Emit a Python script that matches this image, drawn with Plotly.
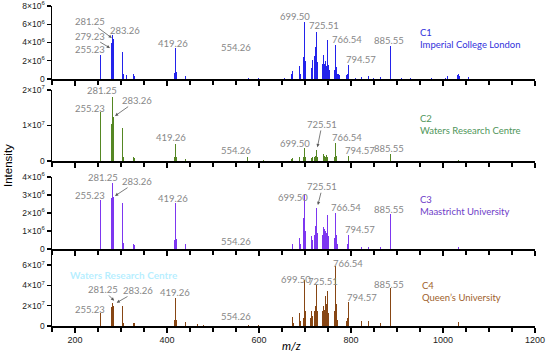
import plotly.graph_objects as go

# ---------------- data ----------------
panel_names = ["C1", "C2", "C3", "C4"]
panel_sites = ["Imperial College London", "Waters Research Centre",
               "Maastricht University", "Queen\u2019s University"]

c1_mz = [255.23, 256.2, 279.23, 280.2, 281.25, 282.2, 283.26, 284.3, 303.23, 304.2, 305.2, 311.2,
         327.2, 329.2, 339.2, 391.28, 417.2, 419.26, 420.3, 441.2, 554.26, 576.3, 598.5, 643.5,
         655.5, 671.5, 673.5, 687.5, 689.5, 697.5, 699.50, 700.5, 713.5, 715.5, 721.5, 723.5,
         725.51, 726.5, 727.5, 737.5, 739.5, 741.5, 745.5, 747.5, 749.5, 750.5, 753.5, 763.5,
         765.5, 766.54, 767.5, 768.5, 771.5, 773.5, 775.5, 790.5, 792.5, 794.57, 795.5, 809.5,
         822.5, 837.5, 848.5, 864.5, 885.55, 886.5, 909.6, 928.6, 975.7, 1005.7, 1009.7, 1031.7,
         1033.7, 1035.7, 1055.7]
c1_int = [2.65, 0.3, 3.9, 0.7, 4.8, 0.9, 4.4, 0.6, 3.0, 0.6, 0.5, 0.4,
          0.5, 0.35, 0.2, 1.35, 0.7, 3.45, 0.75, 0.35, 2.85, 0.15, 0.12, 0.3,
          0.15, 0.6, 0.9, 1.4, 0.6, 2.4, 6.2, 2.0, 1.2, 2.1, 2.5, 3.5,
          5.2, 1.9, 1.3, 1.6, 2.6, 1.6, 2.0, 1.4, 4.3, 1.5, 1.0, 1.0,
          1.4, 3.7, 1.3, 0.9, 0.6, 0.5, 0.4, 0.4, 0.6, 1.5, 0.5, 0.15,
          0.25, 0.3, 0.15, 0.2, 3.6, 0.6, 0.1, 0.15, 0.1, 0.15, 0.3, 0.4,
          0.6, 0.3, 0.2]  # x1e6

c2_mz = [255.23, 256.2, 279.23, 281.25, 282.3, 283.26, 284.3, 303.23, 304.2, 305.2, 327.2, 329.2,
         391.28, 417.2, 419.26, 420.3, 441.2, 554.26, 574.3, 610.5, 643.5, 671.5, 673.5, 687.5,
         697.5, 699.50, 700.5, 713.5, 715.5, 721.5, 723.5, 725.51, 726.5, 739.5, 741.5, 745.5,
         747.5, 749.5, 763.5, 765.5, 766.54, 767.5, 768.5, 794.57, 795.5, 885.55, 886.5, 1033.7]
c2_int = [1.37, 0.2, 1.05, 1.8, 0.3, 1.25, 0.3, 0.93, 0.15, 0.12, 0.12, 0.08,
          0.26, 0.12, 0.48, 0.1, 0.05, 0.15, 0.1, 0.03, 0.04, 0.05, 0.08, 0.1,
          0.1, 0.37, 0.1, 0.08, 0.12, 0.1, 0.15, 0.3, 0.1, 0.2, 0.15, 0.12,
          0.18, 0.12, 0.1, 0.15, 0.51, 0.15, 0.08, 0.15, 0.05, 0.2, 0.04, 0.03]  # x1e7

c3_mz = [255.23, 256.2, 279.23, 281.25, 282.3, 283.26, 284.3, 303.23, 304.2, 305.2, 327.2, 329.2,
         391.28, 417.2, 419.26, 420.3, 441.2, 554.26, 673.5, 687.5, 689.5, 697.5, 699.50, 700.5,
         713.5, 715.5, 721.5, 723.5, 725.51, 726.5, 737.5, 739.5, 741.5, 745.5, 747.5, 749.5,
         750.5, 763.5, 765.5, 766.54, 767.5, 768.5, 771.5, 792.5, 794.57, 795.5, 822.5, 837.5,
         864.5, 885.55, 886.5, 1033.7]
c3_int = [2.7, 0.3, 2.85, 3.65, 0.5, 2.9, 0.4, 2.55, 0.4, 0.35, 0.3, 0.25,
          1.0, 0.5, 2.55, 0.55, 0.3, 0.12, 0.3, 0.6, 0.3, 1.7, 3.05, 1.0,
          0.7, 0.5, 0.8, 1.3, 2.3, 0.9, 0.8, 1.2, 1.1, 1.0, 0.9, 1.9,
          0.7, 0.6, 0.9, 2.0, 0.8, 0.5, 0.3, 0.3, 0.78, 0.3, 0.1, 0.12,
          0.12, 1.95, 0.4, 0.1]  # x1e6

c4_mz = [255.23, 256.2, 279.23, 281.25, 282.3, 283.26, 284.3, 303.23, 304.2, 305.2, 327.2, 329.2,
         391.28, 417.2, 419.26, 420.3, 441.2, 465.3, 480.3, 554.26, 576.3, 598.5, 643.5, 673.5,
         675.5, 687.5, 689.5, 697.5, 699.50, 700.5, 711.5, 713.5, 715.5, 721.5, 723.5, 725.51,
         726.5, 737.5, 739.5, 741.5, 745.5, 747.5, 749.5, 750.5, 763.5, 765.5, 766.54, 767.5,
         768.5, 769.5, 771.5, 790.5, 792.5, 794.57, 795.5, 822.5, 837.5, 864.5, 885.55, 886.5,
         1008.7, 1033.7]
c4_int = [1.3, 0.2, 1.9, 2.25, 0.4, 2.0, 0.35, 2.0, 0.3, 0.3, 0.3, 0.25,
          0.8, 0.55, 2.8, 0.6, 0.4, 0.15, 0.1, 0.45, 0.1, 0.08, 0.1, 0.9,
          0.3, 1.3, 0.5, 0.8, 4.5, 1.5, 0.8, 1.5, 1.0, 1.5, 2.0, 4.0,
          1.5, 1.5, 2.0, 1.6, 3.0, 2.2, 3.5, 1.3, 1.5, 1.8, 5.9, 2.2,
          1.5, 1.0, 0.6, 0.5, 0.8, 2.4, 0.8, 0.5, 0.5, 0.3, 3.7, 0.7,
          0.2, 0.4]  # x1e7

scales = [1e6, 1e7, 1e6, 1e7]
y_tops = [8e6, 2e7, 4e6, 7e7]
y_tickvals = [[0, 2e6, 4e6, 6e6, 8e6], [0, 1e7, 2e7], [0, 1e6, 2e6, 3e6, 4e6], [0, 2e7, 4e7, 6e7]]
y_ticktext = [["0", "2\u00d710<sup>6</sup>", "4\u00d710<sup>6</sup>", "6\u00d710<sup>6</sup>", "8\u00d710<sup>6</sup>"],
              ["0", "1\u00d710<sup>7</sup>", "2\u00d710<sup>7</sup>"],
              ["0", "1\u00d710<sup>6</sup>", "2\u00d710<sup>6</sup>", "3\u00d710<sup>6</sup>", "4\u00d710<sup>6</sup>"],
              ["0", "2\u00d710<sup>7</sup>", "4\u00d710<sup>7</sup>", "6\u00d710<sup>7</sup>"]]
x_tickvals = [200, 400, 600, 800, 1000, 1200]
x_ticktext = ["200", "400", "600", "800", "1000", "1200"]

# peak labels: (text, x, y, arrow head x or None, arrow head y)
labels = [
    [("281.25", 233, 6.25e6, 280, 4.5e6), ("279.23", 233, 4.7e6, 276, 3.4e6), ("255.23", 233, 3.2e6, None, None),
     ("283.26", 309, 5.3e6, None, None), ("419.26", 413, 3.9e6, None, None), ("554.26", 550, 3.4e6, None, None),
     ("699.50", 678, 6.8e6, None, None), ("725.51", 741, 5.9e6, None, None), ("766.54", 791, 4.3e6, None, None),
     ("794.57", 821, 2.1e6, None, None), ("885.55", 883, 4.2e6, None, None)],
    [("255.23", 233, 1.49e7, None, None), ("281.25", 258, 1.98e7, None, None), ("283.26", 334, 1.7e7, 287, 1.27e7),
     ("419.26", 408, 0.66e7, None, None), ("554.26", 551, 0.29e7, None, None), ("699.50", 678, 0.49e7, None, None),
     ("725.51", 737, 1.03e7, 727, 0.39e7), ("766.54", 791, 0.66e7, None, None), ("794.57", 819, 0.30e7, None, None),
     ("885.55", 882, 0.34e7, None, None)],
    [("255.23", 233, 3.0e6, None, None), ("281.25", 261, 4.0e6, None, None), ("283.26", 334, 3.74e6, 287, 2.95e6),
     ("419.26", 413, 2.83e6, None, None), ("554.26", 551, 0.44e6, None, None), ("699.50", 674, 2.85e6, None, None),
     ("725.51", 738, 3.46e6, 728, 2.45e6), ("766.54", 790, 2.33e6, None, None), ("794.57", 819, 1.1e6, None, None),
     ("885.55", 882, 2.2e6, None, None)],
    [("255.23", 233, 1.67e7, None, None), ("281.25", 261, 3.6e7, 285, 2.5e7), ("283.26", 337, 3.5e7, 290.6, 2.3e7),
     ("419.26", 417, 3.3e7, None, None), ("554.26", 551, 0.98e7, None, None), ("699.50", 680, 4.6e7, None, None),
     ("725.51", 739, 4.4e7, None, None), ("766.54", 793, 6.2e7, None, None), ("794.57", 823, 2.84e7, None, None),
     ("885.55", 882, 4.1e7, None, None)],
]
panel_label_pos = [(946, 4.4e6), (946, 1.03e7), (946, 2.39e6), (949, 3.43e7)]

bar_colors = ["rgb(35,35,235)", "rgb(85,135,35)", "rgb(125,55,240)", "rgb(135,70,20)"]
text_colors = ["rgb(50,50,220)", "rgb(80,150,90)", "rgb(110,60,200)", "rgb(160,95,45)"]

all_mz = [c1_mz, c2_mz, c3_mz, c4_mz]
all_int = [c1_int, c2_int, c3_int, c4_int]

# ---------------- layout ----------------
W, H = 550, 359
ML, MR = 52, 15
PW = W - ML - MR
px_domains = [(6, 79), (90, 161), (177, 249), (255, 326)]

fig = go.Figure()
layout = dict(width=W, height=H, margin=dict(l=ML, r=MR, t=0, b=0),
              paper_bgcolor="white", plot_bgcolor="white", showlegend=False,
              bargap=0, barmode="overlay")
annotations = []
gray = "rgb(135,135,135)"
lab_font = dict(family="Lato, Open Sans, sans-serif", size=9.5, color=gray)

for i in range(4):
    n = "" if i == 0 else str(i + 1)
    xa, ya = "x" + n, "y" + n
    vals = [v * scales[i] for v in all_int[i]]
    fig.add_trace(go.Bar(x=all_mz[i], y=vals, width=2.0, xaxis=xa, yaxis=ya,
                         marker=dict(color=bar_colors[i], line=dict(width=0))))
    top, bot = px_domains[i]
    layout["xaxis" + n] = dict(
        domain=[0, 1], range=[150, 1200], anchor=ya, showline=True, linecolor="black", linewidth=1.5,
        ticks="outside", ticklen=5, tickwidth=1.3, tickcolor="black", tickvals=x_tickvals,
        ticktext=x_ticktext, showticklabels=(i == 3),
        tickfont=dict(family="Arial, Liberation Sans", size=9, color="#222"),
        minor=dict(dtick=50, tick0=0, ticks="outside", ticklen=4, tickwidth=1.2, tickcolor="black"),
        showgrid=False, zeroline=False, fixedrange=True, automargin=False)
    layout["yaxis" + n] = dict(
        domain=[1 - bot / H, 1 - top / H], range=[0, y_tops[i]], anchor=xa, showline=True,
        linecolor="black", linewidth=1.5, ticks="outside", ticklen=4, tickwidth=1.3, tickcolor="black",
        tickvals=y_tickvals[i], ticktext=y_ticktext[i],
        tickfont=dict(family="Arial, Liberation Sans", size=8.5, color="#222"),
        showgrid=False, zeroline=False, automargin=False, fixedrange=True)

    for (t, x, y, hx, hy) in labels[i]:
        if hx is None:
            annotations.append(dict(text=t, x=x, y=y, xref=xa, yref=ya, showarrow=False,
                                    xanchor="center", yanchor="middle", font=lab_font))
        else:
            annotations.append(dict(text=t, x=hx, y=hy, ax=x, ay=y, xref=xa, yref=ya,
                                    axref=xa, ayref=ya, showarrow=True, arrowhead=2, arrowsize=0.8,
                                    arrowwidth=0.8, arrowcolor="rgb(90,90,90)", font=lab_font,
                                    borderpad=0))
    px_, py_ = panel_label_pos[i]
    annotations.append(dict(text=panel_names[i] + "<br>" + panel_sites[i], x=px_, y=py_,
                            xref=xa, yref=ya, showarrow=False, xanchor="left", yanchor="middle",
                            align="left",
                            font=dict(family="Lato, Open Sans, sans-serif", size=9.5,
                                      color=text_colors[i])))

# faint overlay text visible in the source image
annotations.append(dict(text="<b>Waters Research Centre</b>", x=306, y=5.0e7, xref="x4", yref="y4",
                        showarrow=False, xanchor="center", yanchor="middle",
                        font=dict(family="Lato, Open Sans, sans-serif", size=10,
                                  color="rgba(120,225,255,0.55)")))
# axis titles (paper coords are relative to the plot area)
annotations.append(dict(text="Intensity", x=(8 - ML) / PW, y=1 - 166 / H, xref="paper", yref="paper",
                        showarrow=False, textangle=-90, xanchor="center", yanchor="middle",
                        font=dict(family="Arial, Liberation Sans", size=11.5, color="black")))
annotations.append(dict(text="<i>m/z</i>", x=(291 - ML) / PW, y=1 - 345 / H, xref="paper", yref="paper",
                        showarrow=False, xanchor="center", yanchor="middle",
                        font=dict(family="Lato, Open Sans, sans-serif", size=11.5, color="black")))
layout["annotations"] = annotations
fig.update_layout(**layout)
fig.write_html("out.html", config={"displayModeBar": False, "staticPlot": True},
               post_script="document.body.style.margin='0';document.body.style.overflow='hidden';")
